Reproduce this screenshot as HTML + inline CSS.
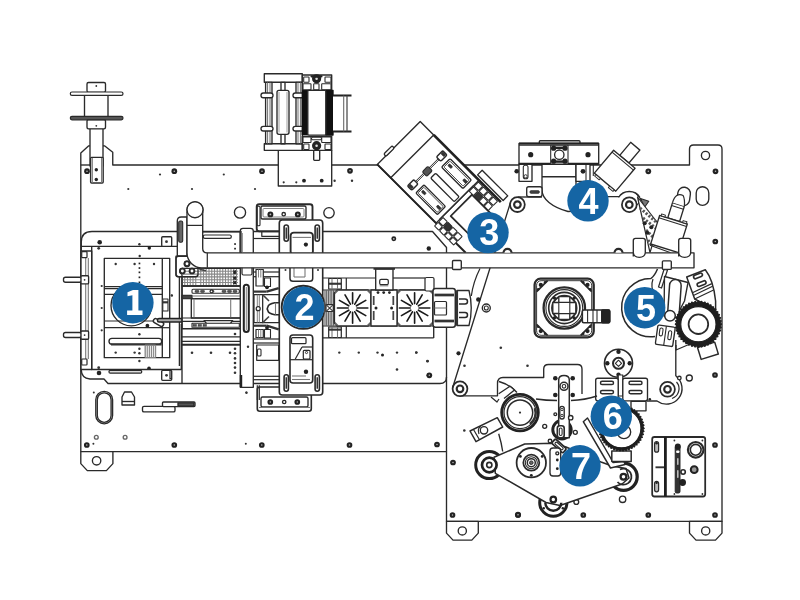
<!DOCTYPE html>
<html><head><meta charset="utf-8"><title>Machine diagram</title>
<style>
html,body{margin:0;padding:0;background:#fff;width:800px;height:600px;overflow:hidden;font-family:"Liberation Sans",sans-serif}
svg{display:block;filter:blur(0.4px)}
</style></head><body>
<svg width="800" height="600" viewBox="0 0 800 600" fill="#fff" stroke="#2a2a2a" stroke-width="1.35" stroke-linejoin="round">
<rect x="0" y="0" width="800" height="600" fill="#fff" stroke="none"/>
<path d="M80.8,451.6 L80.8,153 L88.75,145.8 L104.5,145.8 L112.75,152.3 L112.75,165 L689.5,165 L689.5,149 Q689.5,145 693.5,145 L718,145 Q722,145 722,149 L722,521.3 L446.5,521.3 L446.5,451.6 Z" fill="#fff"/>
<line x1="80.8" y1="165" x2="90" y2="165"/>
<path d="M80.8,451.6 L80.8,463.6 L87.3,470.6 L106.4,470.6 L112.9,463.6 L112.9,451.6 Z" fill="#fff"/>
<circle cx="96.6" cy="460.8" r="4.2"/>
<path d="M446.5,521.3 L446.5,533.0999999999999 L453.0,540.0999999999999 L471.8,540.0999999999999 L478.3,533.0999999999999 L478.3,521.3 Z" fill="#fff"/>
<circle cx="462.3" cy="530.9" r="4.1"/>
<path d="M689.5,521.3 L689.5,533.0999999999999 L696.0,540.0999999999999 L715.5,540.0999999999999 L722,533.0999999999999 L722,521.3 Z" fill="#fff"/>
<circle cx="705.7" cy="530.9" r="4.1"/>
<circle cx="705.5" cy="155.5" r="4.1"/>
<path d="M81.3,372 L81.3,242 Q81.3,231.5 92,231.5 L432.5,231.5 L446.5,247.5 L446.5,377 Q446.5,383.5 440,383.5 L108,383.5 L104,379 L90,379 Q81.3,378 81.3,370" fill="none"/>
<line x1="446.5" y1="377" x2="446.5" y2="451.6"/>
<circle cx="87" cy="171.2" r="2.85" fill="#222" stroke="none"/>
<circle cx="87" cy="171.2" r="0.8" fill="#bbb" stroke="none"/>
<circle cx="174.3" cy="171.2" r="2.85" fill="#222" stroke="none"/>
<circle cx="174.3" cy="171.2" r="0.8" fill="#bbb" stroke="none"/>
<circle cx="262" cy="171.2" r="2.85" fill="#222" stroke="none"/>
<circle cx="262" cy="171.2" r="0.8" fill="#bbb" stroke="none"/>
<circle cx="350" cy="170.8" r="2.85" fill="#222" stroke="none"/>
<circle cx="350" cy="170.8" r="0.8" fill="#bbb" stroke="none"/>
<circle cx="160" cy="174.5" r="1.1" fill="#333" stroke="none"/>
<circle cx="223.8" cy="174.5" r="1.1" fill="#333" stroke="none"/>
<circle cx="128.3" cy="189" r="1.1" fill="#333" stroke="none"/>
<circle cx="192" cy="189" r="1.1" fill="#333" stroke="none"/>
<circle cx="255" cy="189" r="1.1" fill="#333" stroke="none"/>
<circle cx="195" cy="210" r="8"/>
<circle cx="240" cy="212.5" r="5.6"/>
<circle cx="329" cy="212.8" r="5.2"/>
<circle cx="86.8" cy="445" r="2.85" fill="#222" stroke="none"/>
<circle cx="86.8" cy="445" r="0.8" fill="#bbb" stroke="none"/>
<circle cx="174.3" cy="445" r="2.85" fill="#222" stroke="none"/>
<circle cx="174.3" cy="445" r="0.8" fill="#bbb" stroke="none"/>
<circle cx="261.8" cy="445" r="2.85" fill="#222" stroke="none"/>
<circle cx="261.8" cy="445" r="0.8" fill="#bbb" stroke="none"/>
<circle cx="349.5" cy="445" r="2.85" fill="#222" stroke="none"/>
<circle cx="349.5" cy="445" r="0.8" fill="#bbb" stroke="none"/>
<circle cx="93.8" cy="392.5" r="1.0" fill="#333" stroke="none"/>
<circle cx="246.3" cy="392.5" r="1.0" fill="#333" stroke="none"/>
<circle cx="245.8" cy="443.8" r="1.0" fill="#333" stroke="none"/>
<circle cx="93.4" cy="443.7" r="1.0" fill="#333" stroke="none"/>
<circle cx="96.3" cy="437.3" r="1.9" stroke="#666"/>
<circle cx="125.1" cy="437.3" r="1.9" stroke="#666"/>
<rect x="95.8" y="391.3" width="16.8" height="32.5" rx="8.4"/>
<rect x="97.3" y="392.8" width="13.8" height="29.5" rx="6.9"/>
<path d="M122,405 L122,397 L124.5,392 L131.5,392 L134.5,397 L134.5,405 Z"/>
<line x1="122" y1="401.5" x2="134.5" y2="401.5"/>
<rect x="142.5" y="406.3" width="32.5" height="5.6" rx="1.5"/>
<rect x="162.5" y="402" width="32.5" height="4.6" rx="1"/>
<rect x="178" y="402.8" width="16" height="3" fill="#555"/>
<rect x="90" y="128" width="13" height="38" fill="#fff"/>
<rect x="90.6" y="157.3" width="12.6" height="25.7" rx="1" fill="#fff"/>
<line x1="92.3" y1="158" x2="92.3" y2="183" stroke="#777" stroke-width="1.08"/>
<line x1="101.6" y1="158" x2="101.6" y2="183" stroke="#777" stroke-width="1.08"/>
<circle cx="96.3" cy="169.7" r="1.7" fill="#222" stroke="none"/>
<circle cx="96.3" cy="179.5" r="1.7" fill="#222" stroke="none"/>
<rect x="84.5" y="95" width="23.5" height="22" fill="#fff"/>
<rect x="87" y="82.5" width="18.5" height="9.8" rx="1.5" fill="#fff"/>
<circle cx="96.3" cy="86" r="0.9" fill="#333" stroke="none"/>
<rect x="87" y="119.5" width="18.5" height="9.3" rx="1.5" fill="#fff"/>
<circle cx="96.3" cy="125.8" r="0.9" fill="#333" stroke="none"/>
<rect x="70.3" y="92" width="52.7" height="3.4" rx="1.7" fill="#fff" stroke-width="1.22"/>
<rect x="70.3" y="116.4" width="52.7" height="3.4" rx="1.7" fill="#555" stroke-width="1.22"/>
<rect x="278.3" y="150.3" width="53.4" height="35.7" fill="#fff"/>
<circle cx="283.7" cy="182.3" r="1.1" fill="#333" stroke="none"/>
<circle cx="296.3" cy="182.3" r="1.1" fill="#333" stroke="none"/>
<circle cx="304" cy="180.7" r="1.9" fill="#222" stroke="none"/>
<circle cx="321.7" cy="180.7" r="1.9" fill="#222" stroke="none"/>
<circle cx="334.6" cy="180.7" r="1.2" fill="#333" stroke="none"/>
<circle cx="352" cy="180.7" r="1.2" fill="#333" stroke="none"/>
<rect x="313.7" y="149.7" width="6" height="10.6" rx="0.8" fill="#fff"/>
<rect x="264.3" y="73.7" width="38" height="8.6" fill="#fff"/>
<rect x="264.3" y="143.7" width="38" height="6.6" fill="#fff"/>
<rect x="265.6" y="82.3" width="6.4" height="61.4" fill="#fff"/>
<line x1="267.6" y1="82.3" x2="267.6" y2="143.7" stroke-width="0.94" stroke="#666"/>
<line x1="270.0" y1="82.3" x2="270.0" y2="143.7" stroke-width="0.94" stroke="#666"/>
<rect x="296" y="82.3" width="6.4" height="61.4" fill="#fff"/>
<line x1="298" y1="82.3" x2="298" y2="143.7" stroke-width="0.94" stroke="#666"/>
<line x1="300.4" y1="82.3" x2="300.4" y2="143.7" stroke-width="0.94" stroke="#666"/>
<rect x="281" y="82.3" width="4" height="61.4" fill="#fff"/>
<rect x="277" y="90.3" width="12" height="44" rx="2" fill="#fff"/>
<line x1="279" y1="92" x2="279" y2="132.5" stroke-width="0.81" stroke="#888"/>
<line x1="287" y1="92" x2="287" y2="132.5" stroke-width="0.81" stroke="#888"/>
<rect x="261" y="93" width="12" height="4.7" rx="2.3" fill="#fff"/>
<rect x="261" y="126.3" width="12" height="4.7" rx="2.3" fill="#fff"/>
<rect x="293" y="93" width="12" height="4.7" rx="2.3" fill="#fff"/>
<rect x="293" y="126.3" width="12" height="4.7" rx="2.3" fill="#fff"/>
<rect x="302.3" y="75" width="29.4" height="15.3" fill="#fff"/>
<rect x="302.3" y="136.3" width="29.4" height="14" fill="#fff"/>
<rect x="303.7" y="77" width="5.3" height="5.3" rx="0.5" stroke-width="1.08"/>
<rect x="325" y="77" width="6" height="5.3" rx="0.5" stroke-width="1.08"/>
<rect x="303" y="83.7" width="8" height="6.0" rx="0.5" stroke-width="1.08"/>
<rect x="313.7" y="83.7" width="5.3" height="6.0" rx="0.5" stroke-width="1.08"/>
<rect x="321.7" y="83.7" width="9.3" height="6.0" rx="0.5" stroke-width="1.08"/>
<rect x="303" y="137" width="8" height="5.5" rx="0.5" stroke-width="1.08"/>
<rect x="321.7" y="137" width="9.3" height="5.5" rx="0.5" stroke-width="1.08"/>
<rect x="303.7" y="144" width="5.3" height="5.5" rx="0.5" stroke-width="1.08"/>
<rect x="325" y="144" width="6" height="5.5" rx="0.5" stroke-width="1.08"/>
<circle cx="316.6" cy="78.8" r="4.6" fill="#222" stroke="none"/>
<circle cx="316.6" cy="78.8" r="1.3" fill="#ddd" stroke="none"/>
<rect x="310.5" y="75.3" width="12" height="2.2" rx="1" fill="#222" stroke="none"/>
<circle cx="316.6" cy="145.7" r="4.6" fill="#222" stroke="none"/>
<circle cx="316.6" cy="145.7" r="1.3" fill="#ddd" stroke="none"/>
<rect x="311.5" y="137.2" width="10" height="2.6" rx="1" fill="#fff" stroke-width="1.08"/>
<rect x="302.3" y="91" width="5.6" height="43.5" fill="#111" stroke="#111"/>
<rect x="325.7" y="90.3" width="7.3" height="44.8" fill="#111" stroke="#111"/>
<rect x="307.8" y="90.3" width="18" height="44.8" rx="1" fill="#fff"/>
<rect x="333" y="95.5" width="18" height="36" fill="#fff" stroke="none"/>
<line x1="333" y1="95.5" x2="351.5" y2="95.5" stroke-width="2.03" stroke="#222"/>
<line x1="333" y1="131.5" x2="351.5" y2="131.5" stroke-width="2.03" stroke="#222"/>
<line x1="343.7" y1="95.5" x2="343.7" y2="131.5" stroke-width="1.08" stroke="#666"/>
<line x1="347" y1="95.5" x2="347" y2="131.5" stroke-width="1.22" stroke="#444"/>
<path d="M510.5,202.4 L453,386.5 M460,395.8 L497.5,395.8 L497.5,383.5 Q497.5,377.5 503,377.5 L543.7,377.5 L543.7,369 Q543.7,364.5 548.5,364.5 L577.5,364.5 Q582,364.5 582,369 L582,394 M675.8,340 L675.8,376" fill="none"/>
<path d="M480,268.5 A87,87 0 0 0 471.3,296" fill="none" stroke-width="1.22"/>
<circle cx="517.4" cy="204.6" r="7.4" fill="#fff" stroke-width="1.76"/>
<circle cx="517.4" cy="204.6" r="3.3" fill="#fff" stroke-width="2.16"/>
<circle cx="629.3" cy="204.7" r="7.4" fill="#fff" stroke-width="1.76"/>
<circle cx="629.3" cy="204.7" r="3.3" fill="#fff" stroke-width="2.16"/>
<circle cx="460" cy="388.8" r="7.4" fill="#fff" stroke-width="1.76"/>
<circle cx="460" cy="388.8" r="3.3" fill="#fff" stroke-width="2.16"/>
<circle cx="667.5" cy="389.3" r="7.4" fill="#fff" stroke-width="1.76"/>
<circle cx="667.5" cy="389.3" r="3.3" fill="#fff" stroke-width="2.16"/>
<path d="M675.8,376 A13.8,13.8 0 0 1 657,401 L647,401" fill="none"/>
<line x1="518" y1="197" x2="542" y2="197"/>
<path d="M608,196.6 L619,196.6 M618.5,197.5 A12.6,12.6 0 0 1 640,197.6" fill="none"/>
<path d="M542,164 L542,190 C542,199 552,207 568,211.5 L576,211 L576,164 Z" fill="#fff"/>
<line x1="542" y1="176.7" x2="576" y2="176.7"/>
<rect x="519" y="164" width="13" height="17.3" fill="#fff"/>
<rect x="523.3" y="165.3" width="4.7" height="13.4" rx="2" fill="#fff" stroke-width="1.08"/>
<circle cx="525.6" cy="176.3" r="1.6" stroke-width="0.94"/>
<rect x="576" y="164" width="14" height="17.3" fill="#fff"/>
<line x1="586" y1="164" x2="586" y2="181" stroke-width="1.08"/>
<line x1="593.3" y1="164" x2="593.3" y2="176" stroke-width="1.08"/>
<circle cx="516.7" cy="171.3" r="2.3" fill="#222" stroke="none"/>
<circle cx="583" cy="171.3" r="2.4" fill="#222" stroke="none"/>
<rect x="526.7" y="186.7" width="15.3" height="10" rx="2" fill="#fff"/>
<rect x="530" y="190.7" width="9.3" height="2.6" rx="1" fill="#444" stroke-width="0.81"/>
<rect x="539.3" y="140.7" width="40.7" height="3" rx="1" fill="#fff"/>
<rect x="519" y="143.3" width="79.7" height="20.7" fill="#fff"/>
<line x1="519" y1="143.6" x2="598.7" y2="143.6" stroke-width="2.43" stroke="#222"/>
<line x1="519" y1="145.3" x2="598.7" y2="145.3" stroke-width="0.94"/>
<line x1="519" y1="163.8" x2="598.7" y2="163.8" stroke-width="2.03" stroke="#222"/>
<circle cx="530.7" cy="154.7" r="2.6" fill="#222" stroke="none"/>
<circle cx="588" cy="154.7" r="2.6" fill="#222" stroke="none"/>
<rect x="550.7" y="145.3" width="17.3" height="18.7" fill="#fff" stroke-width="1.08"/>
<circle cx="553.6" cy="148.2" r="2.6" fill="#222" stroke="none"/>
<circle cx="565" cy="148.2" r="2.6" fill="#222" stroke="none"/>
<circle cx="553.6" cy="161.2" r="2.6" fill="#222" stroke="none"/>
<circle cx="565" cy="161.2" r="2.6" fill="#222" stroke="none"/>
<rect x="553.6" y="146.6" width="11.4" height="2.4" fill="#222" stroke="none"/>
<rect x="553.6" y="160.4" width="11.4" height="2.4" fill="#222" stroke="none"/>
<circle cx="559.3" cy="154.7" r="4.7" fill="#fff"/>
<g transform="translate(377.3,164.4) rotate(45)">
<rect x="78.3" y="-70" width="36.2" height="6.5" fill="#fff"/>
<rect x="0" y="-60.7" width="83" height="60.7" fill="#fff"/>
<line x1="19" y1="-60.7" x2="114" y2="-60.7" stroke-width="2.7" stroke="#222"/>
<line x1="0" y1="0" x2="125" y2="0" stroke-width="1.89" stroke="#222"/>
<line x1="19" y1="-60.7" x2="19" y2="0"/>
<rect x="-2.7" y="-23.6" width="3.2" height="11.8" rx="1.5" fill="#fff"/>
<rect x="88.4" y="-45.5" width="30" height="30.1" fill="#fff" stroke-width="1.76"/>
<line x1="83" y1="-53" x2="83" y2="-5"/>
<rect x="47.4" y="-55.5" width="30.2" height="12" rx="1.2" fill="#fff"/>
<rect x="49" y="-53.7" width="27" height="8.4" rx="0.8" fill="none" stroke-width="0.81"/>
<rect x="47.5" y="-35" width="33.3" height="7" rx="1.2" fill="#fff"/>
<rect x="47.5" y="-18.5" width="30.5" height="11.5" rx="1.2" fill="#fff"/>
<rect x="49" y="-16.8" width="27.4" height="8.2" rx="0.8" fill="none" stroke-width="0.81"/>
<rect x="50.5" y="-51.6" width="4.6" height="2.6" rx="1.2" fill="#333" stroke-width="0.68"/>
<rect x="50.5" y="-14.3" width="4.6" height="2.6" rx="1.2" fill="#333" stroke-width="0.68"/>
<rect x="71.5" y="-51.6" width="4.6" height="2.6" rx="1.2" fill="#333" stroke-width="0.68"/>
<rect x="71.5" y="-14.3" width="4.6" height="2.6" rx="1.2" fill="#333" stroke-width="0.68"/>
<line x1="39" y1="-52" x2="39" y2="-8" stroke-width="0.94"/>
<line x1="40.4" y1="-52" x2="40.4" y2="-8" stroke-width="0.94"/>
<rect x="36.5" y="-56" width="6.2" height="9" rx="1.5" fill="#fff" stroke-width="1.49"/>
<rect x="37.3" y="-55.3" width="4.4" height="2.8" rx="0.8" fill="#333" stroke-width="0.54"/>
<rect x="37" y="-34.5" width="6.4" height="8" rx="1.5" fill="#555" stroke-width="1.08"/>
<rect x="36.5" y="-15" width="6.2" height="9" rx="1.5" fill="#fff" stroke-width="1.49"/>
<rect x="37.3" y="-9.5" width="4.4" height="2.8" rx="0.8" fill="#333" stroke-width="0.54"/>
<rect x="84" y="-59" width="6" height="6" rx="0.5" fill="#fff" stroke-width="1.08"/>
<rect x="84" y="-52" width="6" height="6" rx="0.5" fill="#fff" stroke-width="1.08"/>
<rect x="84" y="-9" width="6" height="6" rx="0.5" fill="#fff" stroke-width="1.08"/>
<rect x="84" y="-2" width="6" height="5" rx="0.5" fill="#fff" stroke-width="1.08"/>
<rect x="91" y="-59" width="6" height="6" rx="0.5" fill="#fff" stroke-width="1.08"/>
<rect x="91" y="-52" width="6" height="6" rx="0.5" fill="#333" stroke-width="1.08"/>
<rect x="91" y="-9" width="6" height="6" rx="0.5" fill="#333" stroke-width="1.08"/>
<rect x="91" y="-2" width="6" height="5" rx="0.5" fill="#fff" stroke-width="1.08"/>
<rect x="98" y="-59" width="6" height="6" rx="0.5" fill="#fff" stroke-width="1.08"/>
<rect x="98" y="-52" width="6" height="6" rx="0.5" fill="#fff" stroke-width="1.08"/>
<rect x="98" y="-9" width="6" height="6" rx="0.5" fill="#fff" stroke-width="1.08"/>
<rect x="98" y="-2" width="6" height="5" rx="0.5" fill="#fff" stroke-width="1.08"/>
<rect x="105" y="-59" width="6" height="6" rx="0.5" fill="#fff" stroke-width="1.08"/>
<rect x="105" y="-52" width="6" height="6" rx="0.5" fill="#fff" stroke-width="1.08"/>
<rect x="105" y="-9" width="6" height="6" rx="0.5" fill="#fff" stroke-width="1.08"/>
<rect x="105" y="-2" width="6" height="5" rx="0.5" fill="#fff" stroke-width="1.08"/>
</g>
<g transform="translate(614.7,170.7) rotate(-50)">
<rect x="15" y="-6" width="17" height="12" fill="#fff"/>
<rect x="-15" y="-14" width="30" height="28" fill="#fff"/>
<line x1="12.6" y1="-14" x2="12.6" y2="14" stroke-width="1.08"/>
<rect x="-17" y="-12" width="2" height="6" fill="#fff" stroke-width="0.94"/>
<rect x="-17" y="6" width="2" height="6" fill="#fff" stroke-width="0.94"/>
</g>
<path d="M640.5,198.5 L648.8,201.2 L644.6,207.2 Z" fill="#777" stroke-width="1.08"/>
<path d="M636,193.5 L641,199.5 L637.2,205" fill="none" stroke-width="1.08"/>
<g transform="rotate(8 683.7 196.5)">
<rect x="677.4" y="187.2" width="12.6" height="18.6" rx="6.3" fill="#fff"/>
</g>
<rect x="696.2" y="186.7" width="12.6" height="18.6" rx="6.3" fill="#fff"/>
<path d="M637.5,197 L650,252.7 L658.5,224 Z" fill="#fff" stroke-width="1.22"/>
<path d="M640,208 L656,222 M643,218 L657,229 M646,230 L654,238 M648,240 L652,246" fill="none" stroke-width="2.97" stroke="#555" stroke-dasharray="2.2 1.6"/>
<circle cx="644.7" cy="223.3" r="2.0" fill="#222" stroke="none"/>
<circle cx="651.3" cy="227.3" r="2.0" fill="#222" stroke="none"/>
<circle cx="647.3" cy="232.7" r="2.0" fill="#222" stroke="none"/>
<line x1="650" y1="245.3" x2="670.7" y2="252.7" stroke-width="1.22"/>
<g transform="translate(669,234) rotate(-72.7)">
<rect x="15" y="-6" width="16" height="12.4" fill="#fff"/>
<path d="M31,-6 Q42,-6 41,2 Q38,5 31,6.4" fill="#fff" stroke-width="1.22"/>
<line x1="28" y1="-6" x2="28" y2="6.4" stroke-width="1.08"/>
<rect x="-15" y="-14.5" width="30" height="29" fill="#fff"/>
<line x1="12.4" y1="-14.5" x2="12.4" y2="14.5" stroke-width="1.08"/>
<rect x="15" y="-13" width="2" height="4" fill="#fff" stroke-width="0.94"/>
<rect x="15" y="9.5" width="2" height="4" fill="#fff" stroke-width="0.94"/>
</g>
<line x1="81" y1="246.3" x2="177.3" y2="246.3"/>
<rect x="81" y="251" width="10.7" height="118.5" fill="#fff"/>
<line x1="85.7" y1="258" x2="85.7" y2="359" stroke-width="1.08" stroke="#777"/>
<line x1="88.3" y1="258" x2="88.3" y2="359" stroke-width="1.08" stroke="#777"/>
<rect x="81.7" y="251.7" width="5.3" height="6" rx="0.8" fill="#fff" stroke-width="1.22"/>
<rect x="81.7" y="359" width="5.3" height="6" rx="0.8" fill="#fff" stroke-width="1.22"/>
<rect x="63.5" y="277.2" width="18" height="5" rx="2" fill="#fff"/>
<rect x="81" y="275.7" width="7.6" height="8.2" rx="1" fill="#fff"/>
<circle cx="84.6" cy="279.8" r="0.9" fill="#333" stroke="none"/>
<rect x="63.5" y="332.5" width="18" height="5" rx="2" fill="#fff"/>
<rect x="81" y="331" width="7.6" height="8.2" rx="1" fill="#fff"/>
<circle cx="84.6" cy="335.1" r="0.9" fill="#333" stroke="none"/>
<circle cx="99.7" cy="242.3" r="2.3" fill="#222" stroke="none"/>
<circle cx="98.7" cy="248.3" r="1.4" fill="#333" stroke="none"/>
<circle cx="99" cy="373" r="2.3" fill="#222" stroke="none"/>
<circle cx="98.7" cy="367.7" r="1.4" fill="#333" stroke="none"/>
<circle cx="139.4" cy="244.3" r="1.2" fill="#333" stroke="none"/>
<circle cx="149.3" cy="248" r="1.7" fill="#222" stroke="none"/>
<circle cx="139.7" cy="256" r="1.2" fill="#333" stroke="none"/>
<circle cx="149" cy="368.3" r="1.8" fill="#222" stroke="none"/>
<circle cx="139.4" cy="361" r="1.2" fill="#333" stroke="none"/>
<rect x="161.7" y="236.7" width="10" height="9.6" rx="1" fill="#fff"/>
<circle cx="166.5" cy="241.7" r="1.4" fill="#333" stroke="none"/>
<rect x="161.7" y="370.3" width="10" height="10" rx="1" fill="#fff"/>
<circle cx="166.5" cy="375.3" r="1.4" fill="#333" stroke="none"/>
<path d="M91.7,246.3 L91.7,369.5 L181.3,369.5 L181.3,324 M179.4,246.3 L179.4,366" fill="none"/>
<rect x="109" y="370.3" width="32.7" height="2.8" rx="1.2" fill="#ddd" stroke-width="1.22"/>
<circle cx="101.7" cy="286" r="1.1" fill="#333" stroke="none"/>
<circle cx="101.7" cy="308" r="1.1" fill="#333" stroke="none"/>
<circle cx="101.7" cy="330.3" r="1.1" fill="#333" stroke="none"/>
<rect x="104.3" y="258.3" width="65.4" height="99.4" fill="#fff"/>
<line x1="162.3" y1="258.3" x2="162.3" y2="357.7"/>
<line x1="104.3" y1="286.6" x2="162.3" y2="286.6" stroke-width="1.22"/>
<line x1="104.3" y1="288.7" x2="162.3" y2="288.7" stroke-width="1.22"/>
<line x1="104.3" y1="294.3" x2="162.3" y2="294.3" stroke-width="1.22"/>
<line x1="104.3" y1="321" x2="162.3" y2="321" stroke-width="1.22"/>
<line x1="104.3" y1="327.7" x2="162.3" y2="327.7" stroke-width="1.22"/>
<line x1="162.3" y1="327.7" x2="169.7" y2="327.7" stroke-width="1.22"/>
<circle cx="115.7" cy="264" r="1.2" fill="#333" stroke="none"/>
<circle cx="134.6" cy="264" r="1.2" fill="#333" stroke="none"/>
<circle cx="154" cy="264" r="1.2" fill="#333" stroke="none"/>
<circle cx="115.7" cy="352.6" r="1.2" fill="#333" stroke="none"/>
<circle cx="134.6" cy="352.6" r="1.2" fill="#333" stroke="none"/>
<rect x="138.6" y="262.59999999999997" width="1.7" height="1.7" fill="#222" stroke="none"/>
<rect x="138.6" y="267.2" width="1.7" height="1.7" fill="#222" stroke="none"/>
<rect x="138.6" y="271.5" width="1.7" height="1.7" fill="#222" stroke="none"/>
<rect x="138.6" y="276.5" width="1.7" height="1.7" fill="#222" stroke="none"/>
<rect x="138.6" y="281.5" width="1.7" height="1.7" fill="#222" stroke="none"/>
<circle cx="139.4" cy="334.3" r="1.2" fill="#333" stroke="none"/>
<circle cx="139.4" cy="348.7" r="1.2" fill="#333" stroke="none"/>
<circle cx="139.4" cy="353.3" r="1.2" fill="#333" stroke="none"/>
<circle cx="171.7" cy="295.4" r="1.1" fill="#333" stroke="none"/>
<rect x="109" y="338.3" width="52.7" height="6" rx="3" fill="#fff"/>
<line x1="111" y1="344.3" x2="161.7" y2="344.3" stroke-width="2.16" stroke="#333"/>
<line x1="145.8" y1="345" x2="145.8" y2="357" stroke-width="1.08" stroke="#888"/>
<line x1="147.70000000000002" y1="345" x2="147.70000000000002" y2="357" stroke-width="1.08" stroke="#888"/>
<line x1="149.60000000000002" y1="345" x2="149.60000000000002" y2="357" stroke-width="1.08" stroke="#888"/>
<line x1="151.5" y1="345" x2="151.5" y2="357" stroke-width="1.08" stroke="#888"/>
<line x1="153.4" y1="345" x2="153.4" y2="357" stroke-width="1.08" stroke="#888"/>
<line x1="155.3" y1="345" x2="155.3" y2="357" stroke-width="1.08" stroke="#888"/>
<rect x="145" y="345" width="10.7" height="12.5" fill="none" stroke-width="0.94" stroke="#888"/>
<rect x="162.8" y="299" width="5.2" height="12" fill="#fff" stroke-width="1.08"/>
<line x1="162.8" y1="302.3" x2="168" y2="302.3" stroke-width="2.16" stroke="#333"/>
<circle cx="147.4" cy="325.7" r="1.9" fill="#222" stroke="none"/>
<circle cx="131.3" cy="305.5" r="20.3" fill="none" stroke-width="1.35"/>
<g transform="rotate(30 158.5 322.5)">
<rect x="153" y="320.3" width="11" height="4.4" rx="2" fill="#fff" stroke-width="1.49"/>
</g>
<rect x="157.5" y="318.6" width="28" height="3.4" rx="1.5" fill="#aaa" stroke-width="1.49" stroke="#222"/>
<path d="M177.3,256.3 L177.3,221 Q177.3,217 181.3,217 L187,217 L187,256.3 Z" fill="#fff"/>
<rect x="178.7" y="221" width="4" height="21.3" rx="1.5" fill="#666" stroke-width="1.08"/>
<rect x="176" y="256.3" width="22" height="20.4" rx="2.5" fill="#fff"/>
<circle cx="187" cy="263.8" r="2.4" fill="#fff" stroke-width="1.89"/>
<circle cx="182.4" cy="271" r="2.4" fill="#fff" stroke-width="1.89"/>
<circle cx="192" cy="271" r="2.4" fill="#fff" stroke-width="1.89"/>
<line x1="202.7" y1="231.7" x2="240" y2="231.7"/>
<rect x="203.3" y="235" width="28" height="3.3" rx="1.6" fill="#fff" stroke-width="1.22"/>
<rect x="234.2" y="243.2" width="1.7" height="1.7" fill="#222" stroke="none"/>
<rect x="234.2" y="247.8" width="1.7" height="1.7" fill="#222" stroke="none"/>
<rect x="182" y="268.3" width="58.7" height="17.5" fill="#fff"/>
<line x1="200.75" y1="269" x2="200.75" y2="285.3" stroke-width="1.08" stroke="#888"/>
<line x1="203.5" y1="269" x2="203.5" y2="285.3" stroke-width="1.08" stroke="#888"/>
<line x1="206.25" y1="269" x2="206.25" y2="285.3" stroke-width="1.08" stroke="#888"/>
<line x1="209.0" y1="269" x2="209.0" y2="285.3" stroke-width="1.08" stroke="#888"/>
<line x1="211.75" y1="269" x2="211.75" y2="285.3" stroke-width="1.08" stroke="#888"/>
<line x1="214.5" y1="269" x2="214.5" y2="285.3" stroke-width="1.08" stroke="#888"/>
<line x1="217.25" y1="269" x2="217.25" y2="285.3" stroke-width="1.08" stroke="#888"/>
<line x1="220.0" y1="269" x2="220.0" y2="285.3" stroke-width="1.08" stroke="#888"/>
<line x1="222.75" y1="269" x2="222.75" y2="285.3" stroke-width="1.08" stroke="#888"/>
<line x1="225.5" y1="269" x2="225.5" y2="285.3" stroke-width="1.08" stroke="#888"/>
<line x1="228.25" y1="269" x2="228.25" y2="285.3" stroke-width="1.08" stroke="#888"/>
<line x1="231.0" y1="269" x2="231.0" y2="285.3" stroke-width="1.08" stroke="#888"/>
<line x1="233.75" y1="269" x2="233.75" y2="285.3" stroke-width="1.08" stroke="#888"/>
<line x1="236.5" y1="269" x2="236.5" y2="285.3" stroke-width="1.08" stroke="#888"/>
<line x1="182" y1="271.3" x2="238" y2="271.3" stroke-width="1.08" stroke="#888"/>
<line x1="182" y1="274.1" x2="238" y2="274.1" stroke-width="1.08" stroke="#888"/>
<line x1="182" y1="276.9" x2="238" y2="276.9" stroke-width="1.08" stroke="#888"/>
<line x1="182" y1="279.7" x2="238" y2="279.7" stroke-width="1.08" stroke="#888"/>
<line x1="182" y1="282.5" x2="238" y2="282.5" stroke-width="1.08" stroke="#888"/>
<line x1="184.75" y1="277" x2="184.75" y2="285.3" stroke-width="1.08" stroke="#888"/>
<line x1="187.5" y1="277" x2="187.5" y2="285.3" stroke-width="1.08" stroke="#888"/>
<line x1="190.25" y1="277" x2="190.25" y2="285.3" stroke-width="1.08" stroke="#888"/>
<line x1="193.0" y1="277" x2="193.0" y2="285.3" stroke-width="1.08" stroke="#888"/>
<line x1="195.75" y1="277" x2="195.75" y2="285.3" stroke-width="1.08" stroke="#888"/>
<path d="M233.4,270.6 L236,273.4 M236,270.6 L233.4,273.4" stroke-width="1.49" stroke="#222" fill="none"/>
<path d="M233.4,276.8 L236,279.59999999999997 M236,276.8 L233.4,279.59999999999997" stroke-width="1.49" stroke="#222" fill="none"/>
<path d="M233.4,281.3 L236,284.09999999999997 M236,281.3 L233.4,284.09999999999997" stroke-width="1.49" stroke="#222" fill="none"/>
<path d="M199,266 l6,1.5 l-5,2 l6,1.2" fill="none" stroke-width="1.62" stroke="#444"/>
<rect x="182" y="286" width="58.7" height="42.7" fill="#fff"/>
<line x1="182" y1="286" x2="240.7" y2="286" stroke-width="2.16" stroke="#333"/>
<rect x="192" y="289.3" width="47.3" height="4" rx="1" fill="#fff" stroke-width="1.08"/>
<rect x="195" y="290.2" width="4" height="2.2" rx="1" fill="#555" stroke-width="0.54"/>
<rect x="200.5" y="290.2" width="4" height="2.2" rx="1" fill="#555" stroke-width="0.54"/>
<rect x="210" y="290.2" width="4" height="2.2" rx="1" fill="#555" stroke-width="0.54"/>
<rect x="222" y="290.2" width="4" height="2.2" rx="1" fill="#555" stroke-width="0.54"/>
<rect x="227.5" y="290.2" width="4" height="2.2" rx="1" fill="#555" stroke-width="0.54"/>
<rect x="233" y="290.2" width="4" height="2.2" rx="1" fill="#555" stroke-width="0.54"/>
<circle cx="211.5" cy="291.3" r="1.4" fill="#fff" stroke-width="1.08"/>
<rect x="182" y="295.3" width="10" height="3.4" fill="#444" stroke="#333"/>
<line x1="192" y1="296" x2="240" y2="296" stroke-width="1.08" stroke="#777"/>
<line x1="192" y1="298.7" x2="240" y2="298.7" stroke-width="1.22"/>
<rect x="191.3" y="298.7" width="49.4" height="19.3" fill="#fff"/>
<line x1="194" y1="298.7" x2="194" y2="318" stroke-width="1.08" stroke="#777"/>
<line x1="230.7" y1="298.7" x2="230.7" y2="318" stroke-width="1.08" stroke="#777"/>
<line x1="182" y1="318" x2="240" y2="318" stroke-width="1.22"/>
<line x1="182" y1="321.3" x2="240" y2="321.3" stroke-width="1.22"/>
<path d="M204,320.7 L232.7,320.7 L230,324 L207,324 Z" fill="#fff" stroke-width="1.22"/>
<rect x="192" y="323.3" width="47.3" height="4" fill="#fff" stroke-width="1.08"/>
<rect x="193" y="324.3" width="3.5" height="2" fill="#555" stroke-width="0.41"/>
<rect x="198" y="324.3" width="3.5" height="2" fill="#555" stroke-width="0.41"/>
<rect x="203" y="324.3" width="3.5" height="2" fill="#555" stroke-width="0.41"/>
<circle cx="172" cy="295.6" r="1.1" fill="#333" stroke="none"/>
<line x1="182" y1="336.9" x2="240" y2="336.9" stroke-width="1.22"/>
<line x1="182" y1="341.3" x2="240" y2="341.3" stroke-width="1.22"/>
<line x1="182" y1="344.7" x2="240" y2="344.7" stroke-width="2.03"/>
<line x1="182" y1="276.7" x2="182" y2="383.5"/>
<circle cx="192" cy="352.7" r="1.3" fill="#333" stroke="none"/>
<circle cx="211" cy="352.7" r="1.3" fill="#333" stroke="none"/>
<circle cx="230" cy="352.7" r="1.3" fill="#333" stroke="none"/>
<circle cx="235" cy="348.7" r="1.3" fill="#333" stroke="none"/>
<circle cx="235" cy="353.3" r="1.3" fill="#333" stroke="none"/>
<circle cx="235" cy="358.4" r="1.3" fill="#333" stroke="none"/>
<circle cx="235" cy="363" r="1.3" fill="#333" stroke="none"/>
<circle cx="235" cy="367.6" r="1.3" fill="#333" stroke="none"/>
<circle cx="235" cy="372.7" r="1.3" fill="#333" stroke="none"/>
<circle cx="235" cy="334" r="1.3" fill="#333" stroke="none"/>
<circle cx="246.5" cy="392.7" r="1.2" fill="#333" stroke="none"/>
<path d="M170,370 L170,378.7 L172,378.7" fill="none" stroke-width="1.22"/>
<path d="M240.3,387.3 L240.3,231 Q240.3,228.3 243,228.3 L250.5,228.3 Q253.3,228.3 253.3,231 L253.3,387.3 Z" fill="#fff"/>
<line x1="240.6" y1="231" x2="240.6" y2="253" stroke-width="2.16" stroke="#333"/>
<line x1="242.3" y1="233" x2="242.3" y2="252" stroke-width="0.94" stroke="#777"/>
<line x1="241" y1="375" x2="241" y2="387" stroke-width="2.43" stroke="#222"/>
<circle cx="248" cy="346.7" r="1.2" fill="#333" stroke="none"/>
<rect x="243.8" y="284.7" width="5" height="47.3" rx="2.5" fill="#fff" stroke-width="2.03" stroke="#222"/>
<line x1="246.3" y1="287" x2="246.3" y2="330" stroke-width="0.94" stroke="#777"/>
<rect x="242" y="260.3" width="10" height="14.7" rx="1.5" fill="#fff" stroke-width="1.22"/>
<rect x="256.7" y="204.3" width="55.8" height="27" rx="2.5" fill="#fff" stroke-width="1.89"/>
<rect x="257.3" y="206.3" width="2.7" height="19.4" rx="1" fill="#fff" stroke-width="1.08"/>
<rect x="261" y="206" width="45" height="13" rx="1.5" fill="#fff"/>
<rect x="263" y="208.5" width="41" height="8.5" rx="1" fill="none" stroke-width="0.94" stroke="#777"/>
<circle cx="270.4" cy="214.4" r="2.95" fill="#222" stroke="none"/>
<circle cx="270.4" cy="214.4" r="0.8800000000000001" fill="#bbb" stroke="none"/>
<circle cx="297.8" cy="214.4" r="2.95" fill="#222" stroke="none"/>
<circle cx="297.8" cy="214.4" r="0.8800000000000001" fill="#bbb" stroke="none"/>
<circle cx="283.7" cy="214.2" r="1.7" fill="#fff" stroke-width="1.35"/>
<line x1="253.3" y1="238.5" x2="279.3" y2="238.5" stroke-width="1.22"/>
<path d="M261.8,231.3 L261.8,236.3 L279.3,236.3" fill="none" stroke-width="1.22"/>
<rect x="257.3" y="387" width="54" height="24.3" rx="2.5" fill="#fff" stroke-width="1.62"/>
<rect x="261" y="397" width="47" height="10" rx="1.5" fill="#fff"/>
<circle cx="270.3" cy="402" r="2.85" fill="#222" stroke="none"/>
<circle cx="270.3" cy="402" r="0.7200000000000001" fill="#bbb" stroke="none"/>
<circle cx="297.3" cy="402" r="2.85" fill="#222" stroke="none"/>
<circle cx="297.3" cy="402" r="0.7200000000000001" fill="#bbb" stroke="none"/>
<circle cx="284.2" cy="402" r="1.7" fill="#fff" stroke-width="1.35"/>
<line x1="259" y1="407.5" x2="310" y2="407.5" stroke-width="1.08" stroke="#777"/>
<line x1="257.3" y1="385.3" x2="257.3" y2="400" stroke-width="1.22"/>
<line x1="259.3" y1="385.3" x2="259.3" y2="400" stroke-width="1.22"/>
<line x1="253.3" y1="272" x2="279.3" y2="272" stroke-width="1.22"/>
<line x1="253.3" y1="276.7" x2="279.3" y2="276.7" stroke-width="1.22"/>
<line x1="253.3" y1="339" x2="279.3" y2="339" stroke-width="1.22"/>
<line x1="253.3" y1="343" x2="279.3" y2="343" stroke-width="1.22"/>
<line x1="253.3" y1="376.3" x2="279.3" y2="376.3" stroke-width="1.22"/>
<line x1="253.3" y1="379.7" x2="279.3" y2="379.7" stroke-width="1.22"/>
<rect x="256.7" y="345" width="22" height="15.3" fill="#fff" stroke-width="1.22"/>
<rect x="257.5" y="349" width="3.5" height="7" rx="1" fill="#fff" stroke-width="1.08"/>
<rect x="254" y="294.7" width="8.7" height="28" fill="#fff" stroke-width="1.22"/>
<line x1="257.3" y1="294.7" x2="257.3" y2="322.7" stroke-width="0.94" stroke="#777"/>
<line x1="259.3" y1="294.7" x2="259.3" y2="322.7" stroke-width="0.94" stroke="#777"/>
<rect x="262.7" y="294.7" width="16.6" height="28" fill="#fff" stroke-width="1.22"/>
<rect x="254" y="290.5" width="12.7" height="2.2" fill="#333" stroke="none"/>
<rect x="254" y="324.6" width="12.7" height="2.2" fill="#333" stroke="none"/>
<path d="M266.7,291.6 L278.7,288.2 M266.7,325.7 L278.7,329.3" fill="none" stroke-width="2.43" stroke="#333"/>
<path d="M262.7,294.7 L269,301 M262.7,322.7 L269,316.5" fill="none" stroke-width="1.62" stroke="#444"/>
<path d="M279,302.7 L274.7,302.7 Q268.5,304 268,306.5 Q266.5,308.7 268,311 Q268.5,313.5 274.7,314.7 L279,314.7" fill="#fff" stroke-width="1.62"/>
<line x1="275.5" y1="302.7" x2="275.5" y2="314.7" stroke-width="1.08" stroke="#777"/>
<circle cx="258.2" cy="308.7" r="2" fill="#fff" stroke-width="1.22"/>
<rect x="256" y="269.5" width="7.3" height="16.5" fill="#fff" stroke-width="1.22"/>
<line x1="258.5" y1="269.5" x2="258.5" y2="277.5" stroke-width="0.94" stroke="#777"/>
<line x1="260.8" y1="269.5" x2="260.8" y2="277.5" stroke-width="0.94" stroke="#777"/>
<rect x="256" y="329.5" width="7.3" height="8" fill="#fff" stroke-width="1.22"/>
<line x1="258.5" y1="329.5" x2="258.5" y2="337.5" stroke-width="0.94" stroke="#777"/>
<line x1="260.8" y1="329.5" x2="260.8" y2="337.5" stroke-width="0.94" stroke="#777"/>
<rect x="264.5" y="278" width="6" height="8.5" fill="#fff" stroke-width="1.08"/>
<rect x="264.5" y="329.5" width="6" height="8.5" fill="#fff" stroke-width="1.08"/>
<circle cx="267" cy="287.3" r="1.9" fill="#222" stroke="none"/>
<circle cx="267" cy="327.8" r="1.9" fill="#222" stroke="none"/>
<rect x="279.3" y="220" width="43.4" height="175" rx="3" fill="#fff" stroke-width="1.62"/>
<rect x="284.1" y="225" width="4.3" height="16.2" rx="2.1" fill="#fff" stroke-width="1.62"/>
<line x1="286.25" y1="227.5" x2="286.25" y2="238.7" stroke-width="1.49" stroke="#333"/>
<rect x="284.1" y="374.8" width="4.3" height="16.4" rx="2.1" fill="#fff" stroke-width="1.62"/>
<line x1="286.25" y1="377.3" x2="286.25" y2="388.7" stroke-width="1.49" stroke="#333"/>
<rect x="315.1" y="225" width="4.3" height="16.2" rx="2.1" fill="#fff" stroke-width="1.62"/>
<line x1="317.25" y1="227.5" x2="317.25" y2="238.7" stroke-width="1.49" stroke="#333"/>
<rect x="315.1" y="374.8" width="4.3" height="16.4" rx="2.1" fill="#fff" stroke-width="1.62"/>
<line x1="317.25" y1="377.3" x2="317.25" y2="388.7" stroke-width="1.49" stroke="#333"/>
<rect x="290.6" y="232.6" width="22.3" height="22" rx="3.2" fill="#fff" stroke-width="1.89"/>
<line x1="292.5" y1="237.4" x2="311" y2="237.4" stroke-width="1.08" stroke="#777"/>
<circle cx="305.9" cy="244.6" r="2.1" fill="#222" stroke="none"/>
<path d="M290,268 L290,278.5 Q290,281.3 293,281.3 L309.7,281.3 Q312.7,281.3 312.7,278.5 L312.7,268" fill="#fff" stroke-width="1.49"/>
<line x1="294" y1="268" x2="294" y2="277" stroke-width="1.08" stroke="#777"/>
<line x1="305" y1="268" x2="305" y2="277" stroke-width="1.08" stroke="#777"/>
<line x1="294" y1="277" x2="305" y2="277" stroke-width="1.08" stroke="#777"/>
<circle cx="285.5" cy="270" r="1" fill="#333" stroke="none"/>
<circle cx="318" cy="270" r="1" fill="#333" stroke="none"/>
<rect x="290" y="335" width="22.7" height="48" rx="3" fill="#fff" stroke-width="1.62"/>
<rect x="291.5" y="337.7" width="14.5" height="6" rx="1" fill="#fff" stroke-width="1.22"/>
<line x1="290" y1="359.7" x2="312.7" y2="359.7" stroke-width="1.22"/>
<line x1="302" y1="347" x2="295.3" y2="359" stroke-width="1.22"/>
<line x1="302" y1="347" x2="312.7" y2="347" stroke-width="1.22"/>
<rect x="303.3" y="350.3" width="6.7" height="8.7" rx="1" fill="#fff" stroke-width="1.22"/>
<circle cx="306.5" cy="352.5" r="1.1" stroke-width="0.94"/>
<circle cx="306" cy="371.7" r="2.2" fill="#222" stroke="none"/>
<line x1="292" y1="376" x2="306" y2="376" stroke-width="1.08" stroke="#777"/>
<line x1="292" y1="379.5" x2="310" y2="379.5" stroke-width="1.08" stroke="#777"/>
<circle cx="303.3" cy="307.3" r="21.6" fill="#fff" stroke-width="1.89"/>
<line x1="322.7" y1="278" x2="375.7" y2="278" stroke-width="1.22"/>
<line x1="393" y1="278" x2="425" y2="278" stroke-width="1.22"/>
<line x1="322.7" y1="290" x2="433.5" y2="290" stroke-width="1.22"/>
<line x1="322.7" y1="326" x2="433.5" y2="326" stroke-width="1.22"/>
<line x1="322.7" y1="337.9" x2="433.7" y2="337.9"/>
<line x1="433.7" y1="326" x2="433.7" y2="337.9"/>
<line x1="346.3" y1="278" x2="346.3" y2="290" stroke-width="1.22"/>
<line x1="346.3" y1="326" x2="346.3" y2="337.9" stroke-width="1.22"/>
<rect x="328.7" y="278.5" width="12.6" height="10.5" fill="#fff" stroke-width="1.22"/>
<line x1="332" y1="278.5" x2="332" y2="289.0" stroke-width="1.08" stroke="#777"/>
<line x1="337.5" y1="278.5" x2="337.5" y2="289.0" stroke-width="1.08" stroke="#777"/>
<rect x="328.7" y="327" width="12.6" height="10.5" fill="#fff" stroke-width="1.22"/>
<line x1="332" y1="327" x2="332" y2="337.5" stroke-width="1.08" stroke="#777"/>
<line x1="337.5" y1="327" x2="337.5" y2="337.5" stroke-width="1.08" stroke="#777"/>
<rect x="328.7" y="282.7" width="12.6" height="2.1" fill="#333" stroke="none"/>
<rect x="328.7" y="328.6" width="12.6" height="2.1" fill="#333" stroke="none"/>
<line x1="325.0" y1="290" x2="325.0" y2="326" stroke-width="1.22" stroke="#666"/>
<line x1="326.7" y1="290" x2="326.7" y2="326" stroke-width="1.22" stroke="#666"/>
<line x1="328.4" y1="290" x2="328.4" y2="326" stroke-width="1.22" stroke="#666"/>
<line x1="330.1" y1="290" x2="330.1" y2="326" stroke-width="1.22" stroke="#666"/>
<line x1="331.8" y1="290" x2="331.8" y2="326" stroke-width="1.22" stroke="#666"/>
<line x1="333.5" y1="290" x2="333.5" y2="326" stroke-width="1.22" stroke="#666"/>
<rect x="326" y="304.7" width="7.3" height="6.8" fill="#fff" stroke-width="1.22"/>
<path d="M326,304.7 L333.3,311.5 M333.3,304.7 L326,311.5" fill="none" stroke-width="1.08" stroke="#444"/>
<path d="M337.3,290 L368,290 L371,293 L371,323 L368,326 L337.3,326 L334.3,323 L334.3,293 Z" fill="#fff" stroke-width="1.62"/>
<path d="M334.8,294.5 L338.8,290.5 L334.8,290.5 Z" fill="#666" stroke="none"/>
<path d="M370.5,294.5 L366.5,290.5 L370.5,290.5 Z" fill="#666" stroke="none"/>
<path d="M334.8,321.5 L338.8,325.5 L334.8,325.5 Z" fill="#666" stroke="none"/>
<path d="M370.5,321.5 L366.5,325.5 L370.5,325.5 Z" fill="#666" stroke="none"/>
<line x1="357.0" y1="308.0" x2="367.8" y2="308.0" stroke-width="1.62" stroke="#1a1a1a" stroke-linecap="round"/>
<line x1="356.41" y1="310.2" x2="365.76" y2="315.6" stroke-width="1.62" stroke="#1a1a1a" stroke-linecap="round"/>
<line x1="354.8" y1="311.81" x2="360.2" y2="321.16" stroke-width="1.62" stroke="#1a1a1a" stroke-linecap="round"/>
<line x1="352.6" y1="312.4" x2="352.6" y2="323.2" stroke-width="1.62" stroke="#1a1a1a" stroke-linecap="round"/>
<line x1="350.4" y1="311.81" x2="345.0" y2="321.16" stroke-width="1.62" stroke="#1a1a1a" stroke-linecap="round"/>
<line x1="348.79" y1="310.2" x2="339.44" y2="315.6" stroke-width="1.62" stroke="#1a1a1a" stroke-linecap="round"/>
<line x1="348.2" y1="308.0" x2="337.4" y2="308.0" stroke-width="1.62" stroke="#1a1a1a" stroke-linecap="round"/>
<line x1="348.79" y1="305.8" x2="339.44" y2="300.4" stroke-width="1.62" stroke="#1a1a1a" stroke-linecap="round"/>
<line x1="350.4" y1="304.19" x2="345.0" y2="294.84" stroke-width="1.62" stroke="#1a1a1a" stroke-linecap="round"/>
<line x1="352.6" y1="303.6" x2="352.6" y2="292.8" stroke-width="1.62" stroke="#1a1a1a" stroke-linecap="round"/>
<line x1="354.8" y1="304.19" x2="360.2" y2="294.84" stroke-width="1.62" stroke="#1a1a1a" stroke-linecap="round"/>
<line x1="356.41" y1="305.8" x2="365.76" y2="300.4" stroke-width="1.62" stroke="#1a1a1a" stroke-linecap="round"/>
<path d="M400,290 L430,290 L433,293 L433,323 L430,326 L400,326 L397,323 L397,293 Z" fill="#fff" stroke-width="1.62"/>
<path d="M397.5,294.5 L401.5,290.5 L397.5,290.5 Z" fill="#666" stroke="none"/>
<path d="M432.5,294.5 L428.5,290.5 L432.5,290.5 Z" fill="#666" stroke="none"/>
<path d="M397.5,321.5 L401.5,325.5 L397.5,325.5 Z" fill="#666" stroke="none"/>
<path d="M432.5,321.5 L428.5,325.5 L432.5,325.5 Z" fill="#666" stroke="none"/>
<line x1="419.0" y1="308.0" x2="429.8" y2="308.0" stroke-width="1.62" stroke="#1a1a1a" stroke-linecap="round"/>
<line x1="418.41" y1="310.2" x2="427.76" y2="315.6" stroke-width="1.62" stroke="#1a1a1a" stroke-linecap="round"/>
<line x1="416.8" y1="311.81" x2="422.2" y2="321.16" stroke-width="1.62" stroke="#1a1a1a" stroke-linecap="round"/>
<line x1="414.6" y1="312.4" x2="414.6" y2="323.2" stroke-width="1.62" stroke="#1a1a1a" stroke-linecap="round"/>
<line x1="412.4" y1="311.81" x2="407.0" y2="321.16" stroke-width="1.62" stroke="#1a1a1a" stroke-linecap="round"/>
<line x1="410.79" y1="310.2" x2="401.44" y2="315.6" stroke-width="1.62" stroke="#1a1a1a" stroke-linecap="round"/>
<line x1="410.2" y1="308.0" x2="399.4" y2="308.0" stroke-width="1.62" stroke="#1a1a1a" stroke-linecap="round"/>
<line x1="410.79" y1="305.8" x2="401.44" y2="300.4" stroke-width="1.62" stroke="#1a1a1a" stroke-linecap="round"/>
<line x1="412.4" y1="304.19" x2="407.0" y2="294.84" stroke-width="1.62" stroke="#1a1a1a" stroke-linecap="round"/>
<line x1="414.6" y1="303.6" x2="414.6" y2="292.8" stroke-width="1.62" stroke="#1a1a1a" stroke-linecap="round"/>
<line x1="416.8" y1="304.19" x2="422.2" y2="294.84" stroke-width="1.62" stroke="#1a1a1a" stroke-linecap="round"/>
<line x1="418.41" y1="305.8" x2="427.76" y2="300.4" stroke-width="1.62" stroke="#1a1a1a" stroke-linecap="round"/>
<rect x="371" y="290" width="26" height="36" fill="#fff"/>
<circle cx="378" cy="292.6" r="1.4" fill="#222" stroke="none"/>
<circle cx="383.7" cy="292.6" r="1.4" fill="#222" stroke="none"/>
<circle cx="389.4" cy="292.6" r="1.4" fill="#222" stroke="none"/>
<line x1="373.7" y1="296" x2="373.7" y2="305" stroke-width="1.76" stroke="#444"/>
<line x1="373.7" y1="311" x2="373.7" y2="320" stroke-width="1.76" stroke="#444"/>
<line x1="393.3" y1="296" x2="393.3" y2="305" stroke-width="1.76" stroke="#444"/>
<line x1="393.3" y1="311" x2="393.3" y2="320" stroke-width="1.76" stroke="#444"/>
<circle cx="376" cy="308" r="1.5" fill="#222" stroke="none"/>
<circle cx="391.6" cy="308" r="1.5" fill="#222" stroke="none"/>
<rect x="375.7" y="268.7" width="17.3" height="21.3" fill="#fff"/>
<line x1="373.5" y1="268.7" x2="395" y2="268.7" stroke-width="2.16" stroke="#333"/>
<rect x="379.7" y="279.3" width="8.6" height="5.4" rx="1.5" fill="#fff" stroke-width="1.22"/>
<line x1="379.7" y1="285.8" x2="388.3" y2="285.8" stroke-width="1.08" stroke="#777"/>
<rect x="425" y="277.5" width="9" height="13.5" rx="1.5" fill="#fff" stroke-width="1.22"/>
<rect x="433" y="293" width="7" height="30" fill="#fff" stroke-width="1.22"/>
<rect x="433" y="288.6" width="22.3" height="38.6" rx="2.5" fill="#fff" stroke-width="1.49"/>
<line x1="434.5" y1="295" x2="454" y2="295" stroke-width="2.7" stroke="#333"/>
<line x1="434.5" y1="321" x2="454" y2="321" stroke-width="2.7" stroke="#333"/>
<rect x="434.5" y="301.5" width="12" height="13.5" rx="1" fill="#fff" stroke-width="1.22"/>
<line x1="434.5" y1="308" x2="446.5" y2="308" stroke-width="1.08" stroke="#777"/>
<path d="M457,290.5 L469,290.5 Q473.5,308 469,325.5 L457,325.5 Z" fill="#fff" stroke-width="1.35"/>
<line x1="457" y1="290.5" x2="457" y2="325.5" stroke-width="2.16" stroke="#333"/>
<path d="M459,299 L465,299 Q467.5,299 467.5,301.5 Q467.5,304 465,304 L459,304" fill="#fff" stroke-width="1.49"/>
<path d="M459,312.5 L465,312.5 Q467.5,312.5 467.5,315.0 Q467.5,317.5 465,317.5 L459,317.5" fill="#fff" stroke-width="1.49"/>
<circle cx="339.3" cy="352.6" r="1.2" fill="#333" stroke="none"/>
<circle cx="358.8" cy="352.6" r="1.2" fill="#333" stroke="none"/>
<circle cx="377.5" cy="352.6" r="1.2" fill="#333" stroke="none"/>
<circle cx="397" cy="352.6" r="1.2" fill="#333" stroke="none"/>
<circle cx="416.3" cy="352.6" r="1.2" fill="#333" stroke="none"/>
<circle cx="382.5" cy="355" r="1.5" fill="#222" stroke="none"/>
<circle cx="397" cy="369.5" r="1.3" fill="#333" stroke="none"/>
<circle cx="428.8" cy="375.3" r="2.1" fill="#222" stroke="none"/>
<circle cx="427.5" cy="361" r="1.3" fill="#333" stroke="none"/>
<circle cx="393.8" cy="238.8" r="2.45" fill="#222" stroke="none"/>
<circle cx="393.8" cy="238.8" r="0.8800000000000001" fill="#bbb" stroke="none"/>
<circle cx="428.8" cy="248.5" r="2.2" fill="#222" stroke="none"/>
<path d="M694,252.8 L207,252.8 Q202.7,252.8 202.7,248.5 L202.7,212 L187,212 L187,252.8 A15,15 0 0 0 202,267.8 L694,267.8 Z" fill="#fff"/>
<line x1="187" y1="225.4" x2="202.7" y2="225.4" stroke-width="1.22"/>
<line x1="207.3" y1="252.8" x2="207.3" y2="267.8" stroke-width="1.22"/>
<circle cx="195" cy="209.7" r="8" fill="#fff"/>
<path d="M187,256.3 L176,256.3 L176,274.2 Q176,276.7 178.5,276.7 L195.5,276.7 Q198,276.7 198,274.2 L198,267.3" fill="none"/>
<circle cx="187" cy="263.8" r="2.4" fill="#fff" stroke-width="1.89"/>
<circle cx="182.4" cy="271" r="2.4" fill="#fff" stroke-width="1.89"/>
<circle cx="192" cy="271" r="2.4" fill="#fff" stroke-width="1.89"/>
<path d="M633.3,256.5 L633.3,240.5 Q633.3,238.3 635.5,238.3 L643.0999999999999,238.3 Q645.3,238.3 645.3,240.5 L645.3,252.8 Q644.8,257.3 639.3,257.3 Q633.8,257.3 633.3,252.8" fill="#fff"/>
<path d="M678.7,256.5 L678.7,240.5 Q678.7,238.3 680.9000000000001,238.3 L688.5,238.3 Q690.7,238.3 690.7,240.5 L690.7,252.8 Q690.2,257.3 684.7,257.3 Q679.2,257.3 678.7,252.8" fill="#fff"/>
<rect x="452.5" y="260.5" width="8.8" height="9" rx="1" fill="#fff"/>
<rect x="662.4" y="260.8" width="8.9" height="8.6" rx="1" fill="#fff"/>
<path d="M503.5,252.8 A4,4 0 0 1 511.5,252.8" fill="#fff" stroke-width="2.16"/>
<path d="M614.5,252.8 A4,4 0 0 1 622.5,252.8" fill="#fff" stroke-width="2.16"/>
<circle cx="648.3" cy="171.3" r="2.85" fill="#222" stroke="none"/>
<circle cx="648.3" cy="171.3" r="0.7200000000000001" fill="#bbb" stroke="none"/>
<circle cx="715.5" cy="171.3" r="2.85" fill="#222" stroke="none"/>
<circle cx="715.5" cy="171.3" r="0.7200000000000001" fill="#bbb" stroke="none"/>
<circle cx="715.3" cy="241.5" r="2.85" fill="#222" stroke="none"/>
<circle cx="715.3" cy="241.5" r="0.7200000000000001" fill="#bbb" stroke="none"/>
<circle cx="715" cy="375" r="2.85" fill="#222" stroke="none"/>
<circle cx="715" cy="375" r="0.7200000000000001" fill="#bbb" stroke="none"/>
<circle cx="715" cy="445" r="2.85" fill="#222" stroke="none"/>
<circle cx="715" cy="445" r="0.7200000000000001" fill="#bbb" stroke="none"/>
<circle cx="452.5" cy="515" r="2.85" fill="#222" stroke="none"/>
<circle cx="452.5" cy="515" r="0.7200000000000001" fill="#bbb" stroke="none"/>
<circle cx="518" cy="515" r="2.85" fill="#222" stroke="none"/>
<circle cx="518" cy="515" r="0.7200000000000001" fill="#bbb" stroke="none"/>
<circle cx="583.3" cy="515" r="2.85" fill="#222" stroke="none"/>
<circle cx="583.3" cy="515" r="0.7200000000000001" fill="#bbb" stroke="none"/>
<circle cx="648.3" cy="515" r="2.85" fill="#222" stroke="none"/>
<circle cx="648.3" cy="515" r="0.7200000000000001" fill="#bbb" stroke="none"/>
<circle cx="715" cy="515" r="2.85" fill="#222" stroke="none"/>
<circle cx="715" cy="515" r="0.7200000000000001" fill="#bbb" stroke="none"/>
<circle cx="437" cy="444.5" r="2.85" fill="#222" stroke="none"/>
<circle cx="437" cy="444.5" r="0.7200000000000001" fill="#bbb" stroke="none"/>
<circle cx="453" cy="462.5" r="2.85" fill="#222" stroke="none"/>
<circle cx="453" cy="462.5" r="0.7200000000000001" fill="#bbb" stroke="none"/>
<circle cx="429.3" cy="375.3" r="2.85" fill="#222" stroke="none"/>
<circle cx="429.3" cy="375.3" r="0.7200000000000001" fill="#bbb" stroke="none"/>
<circle cx="500.8" cy="347.8" r="1.3" fill="#333" stroke="none"/>
<circle cx="416.3" cy="352.5" r="1.3" fill="#333" stroke="none"/>
<circle cx="427.5" cy="361.3" r="1.3" fill="#333" stroke="none"/>
<circle cx="464.5" cy="365.7" r="1.3" fill="#333" stroke="none"/>
<circle cx="527.5" cy="365.7" r="1.3" fill="#333" stroke="none"/>
<circle cx="464.3" cy="430.5" r="1.3" fill="#333" stroke="none"/>
<circle cx="458.5" cy="353.3" r="2.1" fill="#222" stroke="none"/>
<circle cx="478.3" cy="299.5" r="2.2" fill="#222" stroke="none"/>
<circle cx="486.3" cy="308" r="4" fill="#fff"/>
<circle cx="486.3" cy="308" r="2" fill="#fff" stroke-width="1.08"/>
<circle cx="679.3" cy="378" r="1.8"/>
<circle cx="689.3" cy="378" r="3"/>
<circle cx="576.3" cy="502" r="2.4"/>
<circle cx="622.6" cy="499.3" r="3.2"/>
<circle cx="544.7" cy="426.3" r="2"/>
<circle cx="575.3" cy="432.3" r="2"/>
<circle cx="550" cy="441" r="1.8"/>
<rect x="534.6" y="278.7" width="59.1" height="58.6" rx="6" fill="#fff" stroke-width="2.29"/>
<rect x="536.6" y="280.7" width="55.1" height="54.6" rx="4.5" fill="none" stroke-width="0.94"/>
<path d="M536.6,291.7 L547.6,280.7" fill="none" stroke-width="1.76"/>
<circle cx="540.8000000000001" cy="284.9" r="2.1" fill="#222" stroke="none"/>
<circle cx="538.2" cy="289.2" r="1.3" fill="#222" stroke="none"/>
<circle cx="545.1" cy="282.3" r="1.3" fill="#222" stroke="none"/>
<path d="M591.7,291.7 L580.7,280.7" fill="none" stroke-width="1.76"/>
<circle cx="587.5" cy="284.9" r="2.1" fill="#222" stroke="none"/>
<circle cx="590.1" cy="289.2" r="1.3" fill="#222" stroke="none"/>
<circle cx="583.2" cy="282.3" r="1.3" fill="#222" stroke="none"/>
<path d="M536.6,324.3 L547.6,335.3" fill="none" stroke-width="1.76"/>
<circle cx="540.8000000000001" cy="331.1" r="2.1" fill="#222" stroke="none"/>
<circle cx="538.2" cy="326.8" r="1.3" fill="#222" stroke="none"/>
<circle cx="545.1" cy="333.7" r="1.3" fill="#222" stroke="none"/>
<path d="M591.7,324.3 L580.7,335.3" fill="none" stroke-width="1.76"/>
<circle cx="587.5" cy="331.1" r="2.1" fill="#222" stroke="none"/>
<circle cx="590.1" cy="326.8" r="1.3" fill="#222" stroke="none"/>
<circle cx="583.2" cy="333.7" r="1.3" fill="#222" stroke="none"/>
<circle cx="564.3" cy="308" r="20.7" fill="#fff" stroke-width="2.29"/>
<circle cx="564.3" cy="308" r="18.4" fill="none" stroke-width="1.08"/>
<circle cx="564.3" cy="308" r="15.6" fill="#fff" stroke-width="1.62"/>
<circle cx="564.3" cy="308" r="12.2" fill="#fff" stroke-width="2.03"/>
<circle cx="574.1994949366116" cy="317.8994949366117" r="1.7" fill="#222" stroke="none"/>
<circle cx="554.4005050633883" cy="317.8994949366117" r="1.7" fill="#222" stroke="none"/>
<circle cx="554.4005050633883" cy="298.1005050633883" r="1.7" fill="#222" stroke="none"/>
<circle cx="574.1994949366116" cy="298.1005050633883" r="1.7" fill="#222" stroke="none"/>
<rect x="558.8" y="296.5" width="11" height="23" fill="#fff" stroke-width="1.35"/>
<rect x="552.8" y="302.5" width="23" height="11" fill="#fff" stroke-width="1.35"/>
<rect x="558.8" y="302.5" width="11" height="11" fill="#fff" stroke-width="1.08"/>
<rect x="582.3" y="310" width="27.4" height="12.7" rx="1.5" fill="#fff" stroke-width="1.62"/>
<rect x="601.7" y="310" width="8" height="12.7" rx="1" fill="#222" stroke="#222"/>
<line x1="587.6" y1="310" x2="587.6" y2="322.7" stroke-width="1.08"/>
<line x1="593" y1="310" x2="593" y2="322.7" stroke-width="1.08"/>
<line x1="597" y1="310" x2="597" y2="322.7" stroke-width="1.08"/>
<circle cx="618.5" cy="363.3" r="14" fill="#fff" stroke-width="1.62"/>
<circle cx="618.5" cy="351.8" r="2.2" fill="#222" stroke="none"/>
<circle cx="618.5" cy="374.8" r="2.2" fill="#222" stroke="none"/>
<circle cx="607.3" cy="363.3" r="2.2" fill="#222" stroke="none"/>
<circle cx="629.7" cy="363.3" r="2.2" fill="#222" stroke="none"/>
<circle cx="618.5" cy="363.3" r="5.5" fill="#fff" stroke-width="2.03"/>
<path d="M618.5,360.2 L621.6,363.3 L618.5,366.4 L615.4,363.3 Z" fill="#fff" stroke-width="1.08"/>
<rect x="618.2" y="375" width="4.6" height="21" fill="#fff" stroke-width="1.22"/>
<rect x="595.7" y="378.2" width="22.5" height="22.6" rx="2" fill="#fff"/>
<rect x="622.8" y="378.2" width="24.7" height="22.6" rx="2" fill="#fff"/>
<rect x="600.5" y="381.3" width="13" height="3.2" rx="1.6" fill="#fff" stroke-width="1.49"/>
<rect x="600.5" y="390.5" width="13" height="3.2" rx="1.6" fill="#fff" stroke-width="1.49"/>
<rect x="629" y="381.3" width="13" height="3.2" rx="1.6" fill="#fff" stroke-width="1.49"/>
<rect x="629" y="390.5" width="13" height="3.2" rx="1.6" fill="#fff" stroke-width="1.49"/>
<path d="M676.5,382 A10.3,10.3 0 0 1 672,398.5" fill="none" stroke-width="1.22"/>
<circle cx="649.8" cy="399.3" r="1.3" fill="#222" stroke="none"/>
<rect x="631" y="401.3" width="15" height="9.5" fill="#fff" stroke-width="1.35"/>
<path d="M657.5,269 Q654.5,276 651,278.4 A29.2,29.2 0 1 0 655,336.5" fill="#fff" stroke-width="1.49"/>
<path d="M664,269.5 L658.5,287 L661.5,288 L667.5,270 Z" fill="#fff" stroke-width="1.22"/>
<path d="M653,279 Q650,287 655,296" fill="none" stroke-width="1.22"/>
<path d="M664.5,276.5 L688,282.5 L684.5,301 L677,315 L664,316 Z" fill="#fff" stroke-width="1.35"/>
<g transform="rotate(4 674.5 298)">
<rect x="668.7" y="279.5" width="11.6" height="38.5" rx="5.8" fill="#fff" stroke-width="1.49"/>
</g>
<circle cx="670" cy="315.7" r="5.3" fill="#fff" stroke-width="1.49"/>
<path d="M686.7,277 L705.3,269.7 Q713.5,280 715.6,301 L715.6,310 L694.7,299 Z" fill="#fff" stroke-width="1.49"/>
<path d="M694.7,299 L713.6,290 M693.4,295.5 L712.6,286.3 M692.4,292.8 L711.8,283.6" fill="none" stroke-width="1.22"/>
<g transform="rotate(-22 698 275.9)">
<rect x="693.4" y="274.09999999999997" width="9.2" height="3.6" rx="1.8" fill="#fff" stroke-width="1.62"/>
</g>
<g transform="rotate(-22 701.6 283.6)">
<rect x="697.0" y="281.8" width="9.2" height="3.6" rx="1.8" fill="#fff" stroke-width="1.62"/>
</g>
<g transform="rotate(8 665 336)">
<rect x="656.5" y="326" width="17.5" height="19.5" rx="1.5" fill="#fff" stroke-width="1.35"/>
<rect x="659" y="328.5" width="3.2" height="8" rx="1.6" fill="#fff" stroke-width="1.08"/>
<rect x="668" y="330" width="3.2" height="9" rx="1.6" fill="#fff" stroke-width="1.08"/>
<line x1="665" y1="326" x2="665" y2="345.5" stroke-width="1.08"/>
</g>
<g transform="rotate(-17 708 351)">
<rect x="699" y="344.5" width="18" height="12.5" fill="#fff" stroke-width="1.49"/>
</g>
<path d="M676,345 L676,350 L690,344" fill="none" stroke-width="1.22"/>
<path d="M721.6,324.2 L720.04,325.75 L721.36,327.5 L719.6,328.81 L720.66,330.74 L718.73,331.78 L719.5,333.84 L717.45,334.6 L717.92,336.74 L715.77,337.2 L715.93,339.39 L713.74,339.54 L713.59,341.73 L711.4,341.57 L710.94,343.72 L708.8,343.25 L708.04,345.3 L705.98,344.53 L704.94,346.46 L703.01,345.4 L701.7,347.16 L699.95,345.84 L698.4,347.4 L696.85,345.84 L695.1,347.16 L693.79,345.4 L691.86,346.46 L690.82,344.53 L688.76,345.3 L688.0,343.25 L685.86,343.72 L685.4,341.57 L683.21,341.73 L683.06,339.54 L680.87,339.39 L681.03,337.2 L678.88,336.74 L679.35,334.6 L677.3,333.84 L678.07,331.78 L676.14,330.74 L677.2,328.81 L675.44,327.5 L676.76,325.75 L675.2,324.2 L676.76,322.65 L675.44,320.9 L677.2,319.59 L676.14,317.66 L678.07,316.62 L677.3,314.56 L679.35,313.8 L678.88,311.66 L681.03,311.2 L680.87,309.01 L683.06,308.86 L683.21,306.67 L685.4,306.83 L685.86,304.68 L688.0,305.15 L688.76,303.1 L690.82,303.87 L691.86,301.94 L693.79,303.0 L695.1,301.24 L696.85,302.56 L698.4,301.0 L699.95,302.56 L701.7,301.24 L703.01,303.0 L704.94,301.94 L705.98,303.87 L708.04,303.1 L708.8,305.15 L710.94,304.68 L711.4,306.83 L713.59,306.67 L713.74,308.86 L715.93,309.01 L715.77,311.2 L717.92,311.66 L717.45,313.8 L719.5,314.56 L718.73,316.62 L720.66,317.66 L719.6,319.59 L721.36,320.9 L720.04,322.65 Z" fill="#1e1e1e" stroke="#1e1e1e" stroke-width="1.08"/>
<circle cx="698.4" cy="324.2" r="17.6" fill="#fff" stroke="#1e1e1e" stroke-width="1.08"/>
<circle cx="698.4" cy="324.2" r="9.8" fill="#fff" stroke-width="1.76"/>
<path d="M499,381.5 Q510,384.5 517,392.5" fill="none" stroke-width="1.35"/>
<path d="M536,399 Q546,400.5 557,400.5" fill="none" stroke-width="1.35"/>
<path d="M571,400.5 Q585,400 597,396" fill="none" stroke-width="1.35"/>
<path d="M498.7,433.7 Q501.5,443 502.7,451.5" fill="none" stroke-width="1.35"/>
<path d="M498.7,393.7 L510,386.3 L514.5,390 L504,398.5" fill="#fff" stroke-width="1.35"/>
<path d="M491,397 L497,402 L499,399" fill="none" stroke-width="1.22"/>
<path d="M470,431 L497.3,417.7 L502.7,427 L476,441.7 Z" fill="#fff" stroke-width="1.49"/>
<path d="M473.5,429.5 L479.5,439.8" fill="none" stroke-width="1.22"/>
<circle cx="484" cy="430.3" r="3.7" fill="#fff" stroke-width="1.35"/>
<path d="M479,434 Q477,428 481,426.5" fill="none" stroke-width="1.22"/>
<circle cx="520" cy="412.6" r="18.3" fill="#fff" stroke-width="2.84" stroke="#222"/>
<circle cx="520" cy="412.6" r="16" fill="none" stroke-width="1.22"/>
<circle cx="520" cy="412.6" r="12.7" fill="#fff" stroke-width="1.49"/>
<circle cx="520" cy="412.6" r="1.1" fill="#333" stroke="none"/>
<path d="M530,424 A15,15 0 0 0 535,408" fill="none" stroke-width="2.7" stroke="#333"/>
<circle cx="562" cy="429.7" r="9.2" fill="#fff" stroke-width="2.97" stroke="#222"/>
<circle cx="555.3" cy="378.3" r="2.3" fill="#222" stroke="none"/>
<circle cx="572.7" cy="378.3" r="2.3" fill="#222" stroke="none"/>
<circle cx="555.3" cy="395" r="2.3" fill="#222" stroke="none"/>
<circle cx="572.7" cy="395" r="2.3" fill="#222" stroke="none"/>
<path d="M558.7,437.7 L558.7,380 Q558.7,375.5 564,375.5 Q569.3,375.5 569.3,380 L569.3,437.7 Z" fill="#fff" stroke-width="1.49"/>
<circle cx="564" cy="386.3" r="4" fill="#fff" stroke-width="1.49"/>
<circle cx="564" cy="386.3" r="1.8" fill="#fff" stroke-width="1.08"/>
<rect x="559.8" y="406.3" width="4.4" height="12.7" rx="2.2" fill="#fff" stroke-width="1.35"/>
<circle cx="562" cy="409.5" r="1.2" stroke-width="0.94"/>
<circle cx="562" cy="415.5" r="1.2" stroke-width="0.94"/>
<rect x="557.3" y="425.7" width="6.9" height="12" rx="2.5" fill="#fff" stroke-width="1.62"/>
<rect x="559.3" y="428" width="2.8" height="7.5" rx="1.4" fill="#fff" stroke-width="1.08"/>
<circle cx="570.7" cy="417.7" r="2.2"/>
<circle cx="555.3" cy="414.3" r="1.4"/>
<circle cx="489.3" cy="465" r="13.6" fill="#fff" stroke-width="2.97" stroke="#222"/>
<circle cx="553.3" cy="502.7" r="13.6" fill="#fff" stroke-width="2.97" stroke="#222"/>
<circle cx="623.6" cy="476.7" r="13.6" fill="#fff" stroke-width="3.24" stroke="#222"/>
<path d="M494,457.3 L524.7,444 L553,443.3 L566,447 L601,462 L612,466 L626,468.5 L629,478 L622,484 L560,505.5 L546,502.5 L495.3,473.3 Z" fill="#fff" stroke-width="1.49"/>
<circle cx="489.3" cy="465" r="7.3" fill="#fff" stroke-width="2.7" stroke="#222"/>
<circle cx="489.3" cy="465" r="2.6" fill="#fff" stroke-width="1.62"/>
<path d="M545.3,502.7 A8,8 0 0 0 561.3,502.7" fill="none" stroke-width="2.43" stroke="#222"/>
<circle cx="553.3" cy="499.5" r="2.8" fill="#fff" stroke-width="2.16" stroke="#222"/>
<circle cx="543.7737205583711" cy="508.2" r="1.2" fill="#222" stroke="none"/>
<circle cx="562.8262794416288" cy="508.2" r="1.2" fill="#222" stroke="none"/>
<path d="M620,469.5 A8,8 0 1 1 617.5,482" fill="none" stroke-width="1.76"/>
<circle cx="623.5" cy="476.8" r="2.9" fill="#fff" stroke-width="2.29" stroke="#222"/>
<g transform="rotate(42 559 446)">
<rect x="551.5" y="443" width="15" height="5.8" rx="1.5" fill="#fff" stroke-width="1.76"/>
<rect x="554" y="444.6" width="10" height="2.6" rx="1.3" fill="#fff" stroke-width="1.08"/>
</g>
<rect x="550" y="448" width="10.7" height="28" rx="3" fill="#fff" stroke-width="1.35"/>
<circle cx="557.3" cy="453.3" r="1.5"/>
<circle cx="557.3" cy="460" r="1.4" fill="#222" stroke="none"/>
<circle cx="557.3" cy="468.7" r="1.4" fill="#222" stroke="none"/>
<circle cx="531.3" cy="462.7" r="14.7" fill="#fff" stroke-width="1.76"/>
<circle cx="520.4" cy="456.4" r="1.4" fill="#222" stroke="none"/>
<circle cx="542.2" cy="456.4" r="1.4" fill="#222" stroke="none"/>
<circle cx="531.3" cy="475.3" r="1.4" fill="#222" stroke="none"/>
<circle cx="531.3" cy="462.7" r="8" fill="#fff" stroke-width="1.76"/>
<circle cx="531.3" cy="462.7" r="6" fill="none" stroke-width="1.08"/>
<circle cx="531.3" cy="462.7" r="4" fill="none" stroke-width="1.49"/>
<circle cx="531.3" cy="462.7" r="1.8" fill="#666" stroke-width="0.94"/>
<circle cx="518" cy="514.7" r="3.05" fill="#222" stroke="none"/>
<circle cx="518" cy="514.7" r="0.8" fill="#bbb" stroke="none"/>
<path d="M583.3,421.7 L587.5,418 L609.5,456 L613,462.5 L624,461.5 L625,464.5 L610.5,468 Z" fill="#fff" stroke-width="1.49"/>
<rect x="611.8" y="451" width="19.4" height="10.6" fill="#fff" stroke-width="1.49"/>
<path d="M644.3,428.3 L642.75,429.75 L644.09,431.4 L642.35,432.63 L643.45,434.45 L641.57,435.43 L642.41,437.38 L640.41,438.1 L640.98,440.15 L638.9,440.58 L639.19,442.69 L637.07,442.84 L637.06,444.96 L634.94,444.82 L634.65,446.93 L632.57,446.5 L631.99,448.54 L629.99,447.84 L629.14,449.78 L627.25,448.81 L626.14,450.62 L624.4,449.4 L623.06,451.05 L621.5,449.6 L619.94,451.05 L618.6,449.4 L616.86,450.62 L615.75,448.81 L613.86,449.78 L613.01,447.84 L611.01,448.54 L610.43,446.5 L608.35,446.93 L608.06,444.82 L605.94,444.96 L605.93,442.84 L603.81,442.69 L604.1,440.58 L602.02,440.15 L602.59,438.1 L600.59,437.38 L601.43,435.43 L599.55,434.45 L600.65,432.63 L598.91,431.4 L600.25,429.75 L598.7,428.3 L600.25,426.85 L598.91,425.2 L600.65,423.97 L599.55,422.15 L601.43,421.17 L600.59,419.22 L602.59,418.5 L602.02,416.45 L604.1,416.02 L603.81,413.91 L605.93,413.76 L605.94,411.64 L608.06,411.78 L608.35,409.67 L610.43,410.1 L611.01,408.06 L613.01,408.76 L613.86,406.82 L615.75,407.79 L616.86,405.98 L618.6,407.2 L619.94,405.55 L621.5,407.0 L623.06,405.55 L624.4,407.2 L626.14,405.98 L627.25,407.79 L629.14,406.82 L629.99,408.76 L631.99,408.06 L632.57,410.1 L634.65,409.67 L634.94,411.78 L637.06,411.64 L637.07,413.76 L639.19,413.91 L638.9,416.02 L640.98,416.45 L640.41,418.5 L642.41,419.22 L641.57,421.17 L643.45,422.15 L642.35,423.97 L644.09,425.2 L642.75,426.85 Z" fill="#1e1e1e" stroke="#1e1e1e" stroke-width="1.08"/>
<circle cx="621.5" cy="428.3" r="19.4" fill="#fff" stroke="#1e1e1e" stroke-width="1.08"/>
<circle cx="621.5" cy="428.3" r="0.1" fill="#fff" stroke-width="1.76"/>
<circle cx="624" cy="432" r="6.7" fill="#fff" stroke-width="1.35"/>
<rect x="652.2" y="437" width="53" height="59.5" rx="2.2" fill="#fff" stroke-width="1.76"/>
<rect x="664" y="437" width="2.8" height="59.5" fill="#1e1e1e" stroke="none"/>
<rect x="654.6" y="441.7" width="4" height="10.5" rx="2" fill="#bbb" stroke-width="1.22"/>
<circle cx="656.6" cy="443.2" r="1.2" fill="#222" stroke="none"/>
<rect x="654.6" y="481.3" width="4" height="10.5" rx="2" fill="#bbb" stroke-width="1.22"/>
<circle cx="656.6" cy="482.8" r="1.2" fill="#222" stroke="none"/>
<line x1="655.5" y1="467.3" x2="664" y2="467.3" stroke-width="1.89" stroke="#333"/>
<rect x="675.2" y="446" width="4.8" height="47" rx="1.5" fill="#333" stroke="#222" stroke-width="0.94"/>
<circle cx="677.8" cy="446.5" r="3" fill="#222" stroke="none"/>
<circle cx="682.6" cy="482.5" r="3.4" fill="#222" stroke="none"/>
<rect x="676.2" y="450.5" width="3.2" height="2.6" rx="0.8" fill="#fff" stroke="none"/>
<rect x="677" y="458" width="1.6" height="7" rx="0.8" fill="#bbb" stroke="none"/>
<rect x="677" y="470" width="1.6" height="8" rx="0.8" fill="#bbb" stroke="none"/>
<circle cx="683.1" cy="472" r="2.2" fill="#fff" stroke-width="1.62"/>
<circle cx="695.7" cy="449.8" r="7.8" fill="#fff" stroke-width="2.16"/>
<circle cx="695.7" cy="449.8" r="5.4" fill="#fff" stroke-width="1.62"/>
<circle cx="694.2" cy="469.7" r="3.4" fill="#999" stroke-width="2.03" stroke="#222"/>
<circle cx="674.4" cy="440.5" r="0.9" fill="#333" stroke="none"/>
<circle cx="702.4" cy="440.5" r="0.9" fill="#333" stroke="none"/>
<circle cx="674.4" cy="494" r="0.9" fill="#333" stroke="none"/>
<circle cx="702.4" cy="494" r="0.9" fill="#333" stroke="none"/>
<circle cx="132.9" cy="302.7" r="20.7" fill="#1565a4" stroke="none"/>
<path d="M127.5,292.2 L133,290.1 L138.4,290.1 L138.4,310.4 L142.5,310.4 L142.5,314.9 L127.1,314.9 L127.1,310.4 L132.4,310.4 L132.4,295.2 L127.5,296.3 Z" fill="#fff" stroke="none"/>
<circle cx="303.6" cy="307.3" r="20.7" fill="#1565a4" stroke="none"/>
<text x="304.40000000000003" y="320.1" text-anchor="middle" font-family="Liberation Sans, sans-serif" font-weight="bold" font-size="36" fill="#fff" stroke="none">2</text>
<circle cx="488" cy="232.6" r="20.7" fill="#1565a4" stroke="none"/>
<text x="489.2" y="245.4" text-anchor="middle" font-family="Liberation Sans, sans-serif" font-weight="bold" font-size="36" fill="#fff" stroke="none">3</text>
<circle cx="588" cy="200.8" r="20.7" fill="#1565a4" stroke="none"/>
<text x="588.6" y="213.60000000000002" text-anchor="middle" font-family="Liberation Sans, sans-serif" font-weight="bold" font-size="36" fill="#fff" stroke="none">4</text>
<circle cx="644.7" cy="307.7" r="20.7" fill="#1565a4" stroke="none"/>
<text x="645.9000000000001" y="320.5" text-anchor="middle" font-family="Liberation Sans, sans-serif" font-weight="bold" font-size="36" fill="#fff" stroke="none">5</text>
<circle cx="611.3" cy="416.2" r="20.7" fill="#1565a4" stroke="none"/>
<text x="612.8" y="429.0" text-anchor="middle" font-family="Liberation Sans, sans-serif" font-weight="bold" font-size="36" fill="#fff" stroke="none">6</text>
<circle cx="580" cy="465.8" r="20.7" fill="#1565a4" stroke="none"/>
<text x="581.0" y="478.6" text-anchor="middle" font-family="Liberation Sans, sans-serif" font-weight="bold" font-size="36" fill="#fff" stroke="none">7</text>
</svg>
</body></html>
